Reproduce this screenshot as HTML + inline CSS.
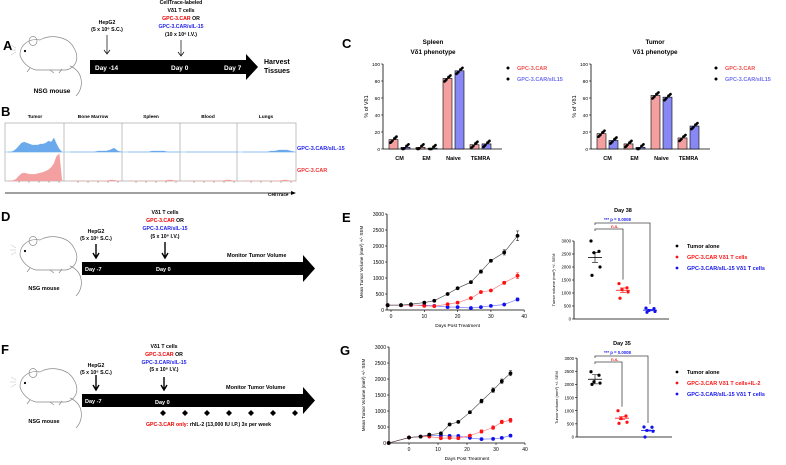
<!DOCTYPE html>
<html><head><meta charset="utf-8">
<style>
html,body{margin:0;padding:0;background:#fff;}
svg{display:block;font-family:"Liberation Sans",Arial,sans-serif;}
.b{font-weight:bold;}
</style></head>
<body>
<svg id="fig" width="786" height="465" viewBox="0 0 786 465">
<defs>
<g id="mouse">
  <path d="M20,55 C20,44 30,38 40,40 C50,34 68,36 74,48 C80,58 76,68 66,70 L36,70 C28,68 22,62 20,55 Z" fill="none" stroke="#888" stroke-width="0.7"/>
  <ellipse cx="33" cy="41" rx="4" ry="4.5" fill="none" stroke="#888" stroke-width="0.7"/>
  <circle cx="25" cy="51" r="1.1" fill="#000"/>
  <path d="M70,66 C84,72 84,88 76,96" fill="none" stroke="#888" stroke-width="0.7"/>
  <path d="M16,48 l-5,-3 M16,50 l-6,0 M16,52 l-5,3" stroke="#aaa" stroke-width="0.4"/>
  <path d="M30,68 l-3,4 M50,70 l4,3 M62,69 l-3,4" stroke="#888" stroke-width="0.7"/>
</g>
</defs>

<!-- Panel A -->
<text x="3" y="50" font-size="13" class="b">A</text>
<use href="#mouse"/>
<text x="52" y="93" font-size="6.5" class="b" text-anchor="middle">NSG mouse</text>
<polygon points="90,60 246,60 246,54 258,67 246,80 246,74 90,74" fill="#000"/>
<g font-size="6.5" class="b" fill="#fff">
<text x="95" y="70">Day -14</text><text x="171" y="70">Day 0</text><text x="224" y="70">Day 7</text></g>
<text x="264" y="64" font-size="7" class="b">Harvest</text>
<text x="264" y="73" font-size="7" class="b">Tissues</text>
<g font-size="5.2" class="b" text-anchor="middle">
<text x="107" y="24">HepG2</text><text x="107" y="31">(5 x 10⁶ S.C.)</text>
<text x="181" y="4">CellTrace-labeled</text><text x="181" y="12">Vδ1 T cells</text>
<text x="181" y="20"><tspan fill="#e00">GPC-3.CAR</tspan> OR</text>
<text x="181" y="28" fill="#22e">GPC-3.CAR/sIL-15</text>
<text x="181" y="36">(10 x 10⁶ I.V.)</text></g>
<path d="M107,35 V53 M104,50 L107,54 L110,50 M181,40 V55 M178,52 L181,56 L184,52" stroke="#000" stroke-width="0.7" fill="none"/>

<!-- Panel B -->
<text x="1" y="116" font-size="13" class="b">B</text>
<g id="histo"></g>
<g font-size="4.8" class="b" text-anchor="middle">
<text x="35" y="118">Tumor</text><text x="93" y="118">Bone Marrow</text><text x="151" y="118">Spleen</text><text x="208" y="118">Blood</text><text x="266" y="118">Lungs</text></g>
<text x="297" y="150" font-size="5.5" class="b" fill="#22e">GPC-3.CAR/sIL-15</text>
<text x="297" y="172" font-size="5.5" class="b" fill="#e33">GPC-3.CAR</text>
<path d="M5,193 H291" stroke="#000" stroke-width="0.8"/>
<polygon points="291,191 296,193 291,195" fill="#000"/>
<text x="268" y="196" font-size="4.6" class="b">CellTrace</text>

<!-- Panel C -->
<text x="342" y="48" font-size="13" class="b">C</text>
<g font-size="6.3" class="b" text-anchor="middle">
<text x="433" y="44">Spleen</text><text x="433" y="54">Vδ1 phenotype</text>
<text x="655" y="44">Tumor</text><text x="655" y="54">Vδ1 phenotype</text></g>
<g id="barC"></g>

<!-- Panel D -->
<text x="1" y="221" font-size="13" class="b">D</text>
<use href="#mouse" transform="translate(0,200)"/>
<text x="44" y="290" font-size="5.5" class="b" text-anchor="middle">NSG mouse</text>
<polygon points="82,262 303,262 303,255 315,268.5 303,282 303,275 82,275" fill="#000"/>
<g font-size="5.5" class="b" fill="#fff"><text x="85" y="271">Day -7</text><text x="156" y="271">Day 0</text></g>
<text x="227" y="257" font-size="5.5" class="b">Monitor Tumor Volume</text>
<g font-size="5.2" class="b" text-anchor="middle">
<text x="96" y="233">HepG2</text><text x="96" y="240">(5 x 10⁶ S.C.)</text>
<text x="165" y="214">Vδ1 T cells</text><text x="165" y="222"><tspan fill="#e00">GPC-3.CAR</tspan> OR</text>
<text x="165" y="230" fill="#22e">GPC-3.CAR/sIL-15</text><text x="165" y="238">(5 x 10⁶ I.V.)</text></g>
<path d="M96,244 V257 M93,253 L96,258 L99,253 M165,242 V257 M162,253 L165,258 L168,253" stroke="#000" stroke-width="1.4" fill="none"/>

<!-- Panel F -->
<text x="1" y="354" font-size="13" class="b">F</text>
<use href="#mouse" transform="translate(0,332)"/>
<text x="44" y="423" font-size="5.5" class="b" text-anchor="middle">NSG mouse</text>
<polygon points="82,394 303,394 303,387 315,400.5 303,414 303,407 82,407" fill="#000"/>
<g font-size="5.5" class="b" fill="#fff"><text x="85" y="403">Day -7</text><text x="155" y="404">Day 0</text></g>
<text x="226" y="389" font-size="5.5" class="b">Monitor Tumor Volume</text>
<g font-size="5.2" class="b" text-anchor="middle">
<text x="96" y="367">HepG2</text><text x="96" y="374">(5 x 10⁶ S.C.)</text>
<text x="164" y="348">Vδ1 T cells</text><text x="164" y="356"><tspan fill="#e00">GPC-3.CAR</tspan> OR</text>
<text x="164" y="364" fill="#22e">GPC-3.CAR/sIL-15</text><text x="164" y="371">(5 x 10⁶ I.V.)</text></g>
<path d="M96,375 V389 M93,385 L96,390 L99,385 M164,377 V389 M161,385 L164,390 L167,385" stroke="#000" stroke-width="1.4" fill="none"/>
<g id="diamonds" fill="#000"></g>
<text x="146" y="426" font-size="5.2" class="b"><tspan fill="#e00">GPC-3.CAR only:</tspan> rhIL-2 (13,000 IU I.P.) 3x per week</text>

<!-- Panel E / G labels -->
<text x="342" y="222" font-size="13" class="b">E</text>
<text x="340" y="355" font-size="13" class="b">G</text>
<g id="charts"></g>
</svg>

<script>
// ---------- DATA ----------
const phenoCats = ["CM","EM","Naive","TEMRA"];
const spleenRed = [11,2,83,5];
const spleenBlue = [2,1,92,6];
const tumorRed = [18,6,63,13];
const tumorBlue = [10,2,61,27];
const pctTicks = [0,20,40,60,80,100];

const eDays = [-1,3,6,10,13,17,20,24,27,30,34,38];
const eBlack = [150,150,180,230,290,500,680,870,1200,1540,1800,2320];
const eRed = [150,150,160,130,120,180,230,370,560,610,850,1070];
const eBlue = [150,150,150,150,130,90,90,60,90,130,170,330];
const eErr = [10,10,15,20,20,25,30,40,50,40,80,150];

const gDays = [-7,0,4,7,11,14,17,21,25,29,32,35];
const gBlack = [0,170,200,260,300,580,660,960,1310,1650,1930,2180];
const gRed = [0,170,200,200,150,160,150,230,360,480,660,710];
const gBlue = [0,170,200,230,230,220,220,160,120,130,160,230];
const gErr = [0,20,20,30,40,30,30,40,60,70,70,80];

const volTicks = [0,500,1000,1500,2000,2500,3000];
const eXTicks = [0,10,20,30,40];
const gXTicks = [0,10,20,30,40];

const e38Black = [3000,2600,2550,2000,1680];
const e38Red = [1360,1200,1130,1040,800];
const e38Blue = [420,400,330,290,260];
const g35Black = [2480,2350,2100,2050,2000];
const g35Red = [1000,800,700,560,520];
const g35Blue = [380,370,250,220,0];

const NS = "http://www.w3.org/2000/svg";
function mk(tag, attrs, parent){ const e=document.createElementNS(NS,tag); for(const k in attrs) e.setAttribute(k,attrs[k]); parent.appendChild(e); return e; }
function txt(s, attrs, parent){ const t=mk("text",attrs,parent); t.textContent=s; return t; }

// ---------- Panel B histograms ----------
const hg = document.getElementById("histo");
const box = mk("rect",{x:5,y:123,width:291,height:58,fill:"none",stroke:"#999","stroke-width":0.6},hg);


[64,122,180,237].forEach(x=>mk("line",{x1:x,y1:123,x2:x,y2:181,stroke:"#999","stroke-width":0.6},hg));
mk("line",{x1:5,y1:152,x2:296,y2:152,stroke:"#9cc4f0","stroke-width":0.8},hg);
const blueTumor = [0,0,1,3,6,9,10,9,8,7,7,7,8,8,9,11,10,14,8,3,0];
const redTumor = [0,0,1,3,8,12,13,12,11,11,11,12,13,14,16,18,22,28,40,44,0];
function histo(arr, x0, w, base, scale, fill, name){
  let d = "M"+x0+","+base;
  arr.forEach((v,i)=>{ d += " L"+(x0+i*w/(arr.length-1)).toFixed(1)+","+(base-v*scale).toFixed(1); });
  d += " L"+(x0+w)+","+base+" Z";
  const p = mk("path",{d:d,fill:fill,stroke:fill,"stroke-width":0.3},hg);
  
  
}
histo(blueTumor,8,54,152,1,"#6aa9ec","histogram-tumor-sil15");
histo(redTumor,8,54,181,0.62,"#f4a0a0","histogram-tumor-car");
const smallB = [[0,0,0,0,0,0,0,1,1,1,2,4,1,0],[0,0,0,0,0,0,1,1,1,1,0,0,0,0],[0,0,0,0,0,0,0,0,0,0,0,0,0,0],[0,0,0,0,0,0,0,1,1,2,2,2,1,0]];
[66,124,182,239].forEach((x,i)=>{ histo(smallB[i],x+4,52,152,1,"#6aa9ec","histogram-small-sil15"); histo([0,0,0,0,0,0,0,0,0,0,1,1,0,0],x+4,52,181,1,"#f4a0a0","histogram-small-car"); });
[5,64,122,180,237].forEach(x=>{ for(let k=0;k<5;k++) mk("line",{x1:x+14+k*10,y1:181,x2:x+14+k*10,y2:183,stroke:"#555","stroke-width":0.4},hg); });

// ---------- Panel C bars ----------
const bc = document.getElementById("barC");
function barChart(ax, redV, blueV, name){
  const y = v => 149 - v*0.85;
  const groupW = 27;
  mk("line",{x1:ax,y1:y(100),x2:ax,y2:149,stroke:"#000","stroke-width":0.8},bc);
  mk("line",{x1:ax,y1:149,x2:ax+groupW*4+11,y2:149,stroke:"#000","stroke-width":0.8},bc);
  pctTicks.forEach(t=>{ mk("line",{x1:ax-2,y1:y(t),x2:ax,y2:y(t),stroke:"#000","stroke-width":0.6},bc); txt(String(t),{x:ax-3,y:y(t)+2,"font-size":4.8,"text-anchor":"end"},bc); });
  const yl = txt("% of Vδ1",{x:0,y:0,"font-size":5.5,"text-anchor":"middle",transform:"translate("+(ax-15)+","+y(50)+") rotate(-90)"},bc);
  
  
  phenoCats.forEach((c,i)=>{
    const gx = ax + 6 + i*groupW;
    [[redV[i],"#f4a0a0",gx],[blueV[i],"#8888f4",gx+12]].forEach(([v,f,bx],j)=>{
      const r = mk("rect",{x:bx,y:y(v),width:9,height:149-y(v),fill:f,stroke:"#000","stroke-width":0.6},bc);
      
      
      const offs=[-3,-1,1,2,-2,3];
      offs.forEach((o,k)=>mk("circle",{cx:bx+4.5+o,cy:y(Math.max(0,v+o*1.2)),r:1.3,fill:"#000"},bc));
      mk("line",{x1:bx+4.5,y1:y(v+3),x2:bx+4.5,y2:y(v),stroke:"#000","stroke-width":0.5},bc);
    });
    const l = txt(c,{x:gx+10.5,y:160,"font-size":5.5,"font-weight":"bold","text-anchor":"middle"},bc);
    
    
  });
  const lx = ax+groupW*4+17;
  mk("circle",{cx:lx,cy:68,r:1.5,fill:"#000"},bc);
  mk("circle",{cx:lx,cy:79,r:1.5,fill:"#000"},bc);
  txt("GPC-3.CAR",{x:lx+9,y:70,"font-size":5.5,"font-weight":"bold",fill:"#f05050"},bc);
  txt("GPC-3.CAR/sIL15",{x:lx+9,y:81,"font-size":5.5,"font-weight":"bold",fill:"#7070f0"},bc);
}
barChart(383,spleenRed,spleenBlue,"spleen");
barChart(591,tumorRed,tumorBlue,"tumor");

// ---------- diamonds ----------
const dg = document.getElementById("diamonds");
[163,185,207,229,251,273,295].forEach(x=>mk("polygon",{points:(x-3)+",413 "+x+",410 "+(x+3)+",413 "+x+",416"},dg));

// ---------- Line charts E & G ----------
const cg = document.getElementById("charts");
function lineChart(cfg){
  const X = d => cfg.x0 + d*cfg.px;
  const Y = v => cfg.yb - v*cfg.py;
  mk("line",{x1:cfg.ax,y1:Y(3000),x2:cfg.ax,y2:cfg.yb,stroke:"#000","stroke-width":0.8},cg);
  mk("line",{x1:cfg.ax,y1:cfg.yb,x2:X(40),y2:cfg.yb,stroke:"#000","stroke-width":0.8},cg);
  volTicks.forEach(t=>{ mk("line",{x1:cfg.ax-2,y1:Y(t),x2:cfg.ax,y2:Y(t),stroke:"#000","stroke-width":0.6},cg); txt(String(t),{x:cfg.ax-3,y:Y(t)+2,"font-size":5,"text-anchor":"end"},cg); });
  cfg.xt.forEach(t=>{ mk("line",{x1:X(t),y1:cfg.yb,x2:X(t),y2:cfg.yb+2,stroke:"#000","stroke-width":0.6},cg); txt(String(t),{x:X(t),y:cfg.yb+8,"font-size":5,"text-anchor":"middle"},cg); });
  txt("Days Post Treatment",{x:X(20),y:cfg.yb+17,"font-size":4.8,"text-anchor":"middle"},cg);
  const yt = txt("Mean Tumor Volume (mm³) +/- SEM",{x:0,y:0,"font-size":4.5,"text-anchor":"middle",transform:"translate("+(cfg.ax-24)+","+Y(1500)+") rotate(-90)"},cg);
  
  
  cfg.series.forEach(s=>{
    const pts = cfg.days.map((d,i)=>X(d).toFixed(1)+","+Y(s.v[i]).toFixed(1)).join(" ");
    const line = mk("polyline",{points:pts,fill:"none",stroke:s.lc,"stroke-width":0.6},cg);
    
    
    cfg.days.forEach((d,i)=>{
      const e = cfg.err[i]*s.ef;
      if(e>0) mk("path",{d:"M"+(X(d)-1.5)+","+Y(s.v[i]+e)+" h3 M"+X(d)+","+Y(s.v[i]+e)+" V"+Y(s.v[i]-e)+" M"+(X(d)-1.5)+","+Y(s.v[i]-e)+" h3",stroke:s.c,"stroke-width":0.5,fill:"none"},cg);
      const c = mk("circle",{cx:X(d),cy:Y(s.v[i]),r:1.9,fill:s.c},cg);
      
      
    });
  });
}
lineChart({name:"e",ax:387,x0:391,px:3.33,yb:310,py:0.032,days:eDays,err:eErr,xt:eXTicks,
  series:[{n:"sil15",v:eBlue,c:"#11e",lc:"#66f",ef:0.3},{n:"car",v:eRed,c:"#f11",lc:"#f66",ef:0.6},{n:"tumor",v:eBlack,c:"#000",lc:"#444",ef:1}]});
lineChart({name:"g",ax:389,x0:409,px:2.9,yb:443,py:0.032,days:gDays,err:gErr,xt:gXTicks,
  series:[{n:"sil15",v:gBlue,c:"#11e",lc:"#66f",ef:0.5},{n:"car",v:gRed,c:"#f11",lc:"#f66",ef:0.8},{n:"tumor",v:gBlack,c:"#000",lc:"#444",ef:1}]});

// ---------- Scatter E & G ----------
function scatter(cfg){
  const Y = v => cfg.yb - v*cfg.py;
  mk("line",{x1:cfg.ax,y1:Y(3000),x2:cfg.ax,y2:cfg.yb,stroke:"#000","stroke-width":0.8},cg);
  mk("line",{x1:cfg.ax,y1:cfg.yb,x2:cfg.ax+95,y2:cfg.yb,stroke:"#000","stroke-width":0.8},cg);
  volTicks.forEach(t=>{ mk("line",{x1:cfg.ax-2,y1:Y(t),x2:cfg.ax,y2:Y(t),stroke:"#000","stroke-width":0.6},cg); txt(String(t),{x:cfg.ax-3,y:Y(t)+1.7,"font-size":4.3,"text-anchor":"end"},cg); });
  txt("Tumor volume (mm³) +/- SEM",{x:0,y:0,"font-size":4,"text-anchor":"middle",transform:"translate("+(cfg.ax-19)+","+Y(1500)+") rotate(-90)"},cg);
  txt(cfg.title,{x:cfg.gx[1],y:cfg.ty,"font-size":5.5,"font-weight":"bold","text-anchor":"middle"},cg);
  txt("*** p = 0.0008",{x:cfg.gx[0]+9,y:cfg.ty+9,"font-size":4.3,"font-weight":"bold",fill:"#22e"},cg);
  txt("n.s.",{x:cfg.gx[0]+16,y:cfg.ty+16,"font-size":4.3,"font-weight":"bold",fill:"#e22"},cg);
  mk("path",{d:"M"+cfg.gx[0]+","+(cfg.ty+13)+" V"+(cfg.ty+11)+" H"+cfg.gx[2]+" V"+(Y(cfg.groups[2][0])-4),stroke:"#444","stroke-width":0.8,fill:"none"},cg);
  mk("path",{d:"M"+cfg.gx[0]+","+(cfg.ty+19)+" V"+(cfg.ty+17)+" H"+cfg.gx[1]+" V"+(Y(cfg.groups[1][0])-4),stroke:"#444","stroke-width":0.8,fill:"none"},cg);
  const cols = ["#000","#f11","#11e"];
  const offs = [-4,4,-1,5,-3];
  cfg.groups.forEach((g,gi)=>{
    const mean = g.reduce((a,b)=>a+b,0)/g.length;
    const x = cfg.gx[gi];
    mk("line",{x1:x-7,y1:Y(mean),x2:x+7,y2:Y(mean),stroke:cols[gi],"stroke-width":0.8},cg);
    mk("path",{d:"M"+(x-3)+","+Y(mean*1.08)+" h6 M"+x+","+Y(mean*1.08)+" V"+Y(mean*0.92)+" M"+(x-3)+","+Y(mean*0.92)+" h6",stroke:cols[gi],"stroke-width":0.6,fill:"none"},cg);
    g.forEach((v,i)=>{
      const c = mk("circle",{cx:x+offs[i],cy:Y(v),r:1.6,fill:cols[gi]},cg);
      
      
    });
  });
  cfg.legend.forEach((l,i)=>{
    mk("circle",{cx:677,cy:cfg.ly+i*11,r:1.4,fill:cols[i]},cg);
    const t = txt(l,{x:687,y:cfg.ly+i*11+2,"font-size":5.5,"font-weight":"bold",fill:cols[i]},cg);
    
    
  });
}
scatter({name:"e-day38",ax:574,yb:319,py:0.026,gx:[595,623,650],ty:212,title:"Day 38",groups:[e38Black,e38Red,e38Blue],ly:246,
  legend:["Tumor alone","GPC-3.CAR Vδ1 T cells","GPC-3.CAR/sIL-15 Vδ1 T cells"]});
scatter({name:"g-day35",ax:577,yb:437,py:0.0263,gx:[595,622,648],ty:345,title:"Day 35",groups:[g35Black,g35Red,g35Blue],ly:372,
  legend:["Tumor alone","GPC-3.CAR Vδ1 T cells+IL-2","GPC-3.CAR/sIL-15 Vδ1 T cells"]});
</script>
</body></html>
